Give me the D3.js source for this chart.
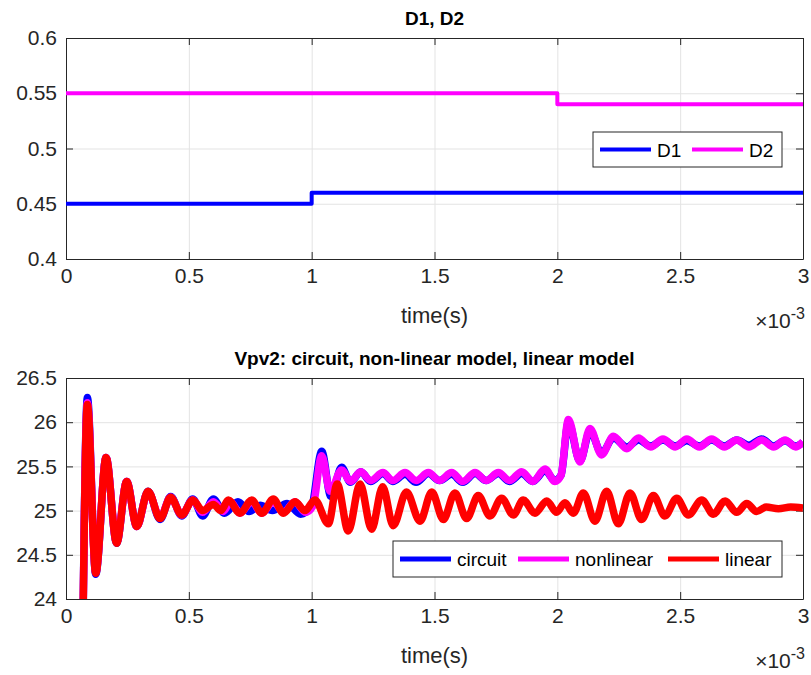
<!DOCTYPE html>
<html>
<head>
<meta charset="utf-8">
<script src="https://cdn.jsdelivr.net/npm/d3@7"></script>
<style>
  body { margin: 0; background: #fff; }
  svg { display: block; font-family: "Liberation Sans", Arial, sans-serif; }
</style>
</head>
<body>
<svg id="chart"></svg>
<script>
// time values are in ms (axis shows x10^-3 s)
const xTicks = [0, 0.5, 1, 1.5, 2, 2.5, 3];
const dutyTicks = [0.4, 0.45, 0.5, 0.55, 0.6];
const voltTicks = [24, 24.5, 25, 25.5, 26, 26.5];

const d1 = [[0, 0.45], [1, 0.46], [3, 0.46]];
const d2 = [[0, 0.55], [2, 0.54], [3, 0.54]];

const circuit = [
  [0.066, 23.0], [0.087, 26.28], [0.121, 24.28], [0.163, 25.6], [0.206, 24.63],
  [0.247, 25.33], [0.288, 24.82], [0.334, 25.22], [0.383, 24.9], [0.426, 25.16],
  [0.471, 24.94], [0.516, 25.13], [0.556, 24.94], [0.6, 25.13], [0.645, 24.97],
  [0.7, 25.1], [0.745, 24.99], [0.79, 25.06], [0.84, 25.0], [0.9, 25.08],
  [0.955, 24.96], [1.0, 25.05], [1.041, 25.67], [1.078, 25.16], [1.122, 25.49],
  [1.158, 25.32], [1.2, 25.44], [1.24, 25.33], [1.29, 25.42], [1.33, 25.33],
  [1.38, 25.41], [1.425, 25.32], [1.475, 25.42], [1.52, 25.34], [1.57, 25.41],
  [1.615, 25.32], [1.665, 25.42], [1.71, 25.34], [1.76, 25.42], [1.805, 25.33],
  [1.855, 25.42], [1.9, 25.33], [1.95, 25.45], [1.99, 25.34], [2.015, 25.4],
  [2.045, 26.0], [2.092, 25.56], [2.133, 25.9], [2.18, 25.65], [2.228, 25.82],
  [2.283, 25.72], [2.33, 25.8], [2.38, 25.73], [2.43, 25.8], [2.48, 25.73],
  [2.527, 25.79], [2.578, 25.73], [2.628, 25.8], [2.68, 25.73], [2.73, 25.8],
  [2.78, 25.74], [2.832, 25.81], [2.88, 25.73], [2.927, 25.79], [2.97, 25.73],
  [3.0, 25.77]
];

const nonlinear = [
  [0.066, 23.0], [0.087, 26.22], [0.121, 24.3], [0.163, 25.6], [0.206, 24.64],
  [0.247, 25.33], [0.288, 24.82], [0.334, 25.21], [0.383, 24.92], [0.426, 25.15],
  [0.471, 24.95], [0.516, 25.12], [0.556, 24.98], [0.6, 25.1], [0.64, 24.99],
  [0.67, 25.1], [0.708, 24.97], [0.756, 25.1], [0.797, 24.97], [0.844, 25.1],
  [0.885, 24.98], [0.932, 25.1], [0.975, 24.98], [1.005, 25.05], [1.041, 25.62],
  [1.075, 25.22], [1.122, 25.46], [1.158, 25.33], [1.2, 25.44], [1.24, 25.34],
  [1.29, 25.43], [1.33, 25.34], [1.38, 25.43], [1.425, 25.34], [1.475, 25.43],
  [1.52, 25.34], [1.57, 25.43], [1.615, 25.33], [1.665, 25.43], [1.71, 25.34],
  [1.76, 25.43], [1.805, 25.34], [1.855, 25.44], [1.9, 25.33], [1.95, 25.47],
  [1.99, 25.33], [2.015, 25.4], [2.045, 26.03], [2.092, 25.55], [2.133, 25.93],
  [2.18, 25.63], [2.228, 25.84], [2.283, 25.7], [2.33, 25.82], [2.38, 25.72],
  [2.43, 25.81], [2.48, 25.72], [2.527, 25.81], [2.578, 25.72], [2.628, 25.81],
  [2.68, 25.72], [2.73, 25.8], [2.78, 25.72], [2.832, 25.8], [2.88, 25.72],
  [2.927, 25.8], [2.97, 25.72], [3.0, 25.78]
];

const linear = [
  [0.066, 23.0], [0.087, 26.2], [0.121, 24.29], [0.163, 25.6], [0.206, 24.63],
  [0.247, 25.33], [0.288, 24.82], [0.334, 25.22], [0.383, 24.91], [0.426, 25.15],
  [0.471, 24.95], [0.516, 25.12], [0.556, 25.0], [0.6, 25.07], [0.63, 25.0],
  [0.661, 25.12], [0.708, 24.97], [0.756, 25.12], [0.797, 24.97], [0.844, 25.13],
  [0.885, 24.97], [0.932, 25.1], [0.973, 25.0], [1.013, 25.12], [1.068, 24.85],
  [1.104, 25.3], [1.149, 24.77], [1.197, 25.3], [1.244, 24.79], [1.289, 25.27],
  [1.332, 24.83], [1.386, 25.21], [1.441, 24.88], [1.489, 25.21], [1.536, 24.9],
  [1.583, 25.2], [1.631, 24.91], [1.678, 25.17], [1.726, 24.94], [1.773, 25.14],
  [1.821, 24.95], [1.861, 25.12], [1.909, 24.97], [1.957, 25.11], [1.997, 24.98],
  [2.031, 25.09], [2.065, 24.97], [2.106, 25.2], [2.153, 24.88], [2.201, 25.22],
  [2.248, 24.85], [2.296, 25.2], [2.343, 24.9], [2.391, 25.17], [2.438, 24.94],
  [2.486, 25.14], [2.533, 24.95], [2.588, 25.12], [2.635, 24.96], [2.683, 25.11],
  [2.73, 24.98], [2.771, 25.08], [2.811, 24.99], [2.85, 25.04], [2.9, 25.02],
  [2.95, 25.04], [3.0, 25.03]
];

const w = 811;
const h = 675;
const left = 66;
const right = 803;
const gridColor = '#e3e3e3';
const axisColor = '#262626';

const svg = d3.select('#chart').attr('width', w).attr('height', h);

const x = d3.scaleLinear().domain([0, 3]).range([left, right]);

function drawPanel(cfg) {
  const y = d3.scaleLinear().domain(cfg.yDomain).range([cfg.bottom, cfg.top]);
  const g = svg.append('g');
  const ht = cfg.bottom - cfg.top;

  // grid
  g.append('g')
    .attr('transform', `translate(0,${cfg.bottom})`)
    .call(d3.axisBottom(x).tickValues(xTicks).tickSize(-ht).tickFormat(''))
    .call((s) => s.select('.domain').remove())
    .selectAll('line').attr('stroke', gridColor);
  g.append('g')
    .attr('transform', `translate(${left},0)`)
    .call(d3.axisLeft(y).tickValues(cfg.yTicks).tickSize(-(right - left)).tickFormat(''))
    .call((s) => s.select('.domain').remove())
    .selectAll('line').attr('stroke', gridColor);

  // box + ticks
  const axes = [
    { a: d3.axisBottom(x).tickValues(xTicks).tickFormat(d3.format('')), t: `translate(0,${cfg.bottom})`, lab: true },
    { a: d3.axisTop(x).tickValues(xTicks).tickFormat(''), t: `translate(0,${cfg.top})` },
    { a: d3.axisLeft(y).tickValues(cfg.yTicks).tickFormat(d3.format('')), t: `translate(${left},0)`, lab: true },
    { a: d3.axisRight(y).tickValues(cfg.yTicks).tickFormat(''), t: `translate(${right},0)` }
  ];
  axes.forEach((ax) => {
    const s = g.append('g')
      .attr('transform', ax.t)
      .call(ax.a.tickSizeInner(-7).tickSizeOuter(0).tickPadding(ax.lab ? 9 : 0));
    s.select('.domain').attr('stroke', axisColor).attr('stroke-width', 1);
    s.selectAll('line').attr('stroke', axisColor);
    s.selectAll('text').attr('fill', axisColor).style('font-size', '21px')
      .style('font-family', '"Liberation Sans", Arial, sans-serif');
  });

  // clip
  const clipId = 'clip' + cfg.top;
  svg.append('clipPath').attr('id', clipId)
    .append('rect').attr('x', left).attr('y', cfg.top)
    .attr('width', right - left).attr('height', ht);

  const lines = g.append('g').attr('clip-path', `url(#${clipId})`);
  cfg.series.forEach((s) => {
    const line = d3.line()
      .x((d) => x(d[0]))
      .y((d) => y(d[1]))
      .curve(s.curve);
    lines.append('path')
      .datum(s.data)
      .attr('d', line)
      .attr('fill', 'none')
      .attr('stroke', s.color)
      .attr('stroke-width', s.width)
      .attr('stroke-linejoin', 'round');
  });

  // title
  svg.append('text')
    .attr('x', (left + right) / 2)
    .attr('y', cfg.top - 13)
    .attr('text-anchor', 'middle')
    .attr('font-size', 19)
    .attr('font-weight', 'bold')
    .attr('fill', '#000')
    .text(cfg.title);

  // x label
  svg.append('text')
    .attr('x', (left + right) / 2)
    .attr('y', cfg.bottom + 64)
    .attr('text-anchor', 'middle')
    .attr('font-size', 22)
    .attr('fill', axisColor)
    .text('time(s)');

  // exponent
  const ex = svg.append('text')
    .attr('x', right + 2)
    .attr('y', cfg.bottom + 69)
    .attr('text-anchor', 'end')
    .attr('font-size', 21)
    .attr('fill', axisColor);
  ex.append('tspan').text('\u00d710');
  ex.append('tspan').attr('dy', -9).attr('font-size', 16).text('-3');

  // legend
  const lg = svg.append('g');
  lg.append('rect')
    .attr('x', cfg.legend.x).attr('y', cfg.legend.y)
    .attr('width', cfg.legend.w).attr('height', cfg.legend.h)
    .attr('fill', '#fff').attr('stroke', axisColor).attr('stroke-width', 1);
  cfg.series.forEach((s, i) => {
    const lx = cfg.legend.pos[i];
    const ly = cfg.legend.y + cfg.legend.h / 2;
    lg.append('line')
      .attr('x1', lx).attr('x2', lx + 51)
      .attr('y1', ly).attr('y2', ly)
      .attr('stroke', s.color).attr('stroke-width', cfg.legend.lw);
    lg.append('text')
      .attr('x', lx + 57).attr('y', ly + 7)
      .attr('font-size', 19)
      .attr('fill', '#000')
      .text(s.name);
  });
}

drawPanel({
  top: 38,
  bottom: 259,
  yDomain: [0.4, 0.6],
  yTicks: dutyTicks,
  title: 'D1, D2',
  series: [
    { name: 'D1', data: d1, color: '#0000ff', width: 4, curve: d3.curveStepAfter },
    { name: 'D2', data: d2, color: '#ff00ff', width: 4, curve: d3.curveStepAfter }
  ],
  legend: { x: 593, y: 132, w: 189, h: 35, pos: [600, 692], lw: 4 }
});

drawPanel({
  top: 378,
  bottom: 599,
  yDomain: [24, 26.5],
  yTicks: voltTicks,
  title: 'Vpv2: circuit, non-linear model, linear model',
  series: [
    { name: 'circuit', data: circuit, color: '#0000ff', width: 7.5, curve: d3.curveMonotoneX },
    { name: 'nonlinear', data: nonlinear, color: '#ff00ff', width: 7.5, curve: d3.curveMonotoneX },
    { name: 'linear', data: linear, color: '#ff0000', width: 7.5, curve: d3.curveMonotoneX }
  ],
  legend: { x: 393, y: 541, w: 389, h: 36, pos: [400, 518, 668], lw: 5 }
});
</script>
</body>
</html>
